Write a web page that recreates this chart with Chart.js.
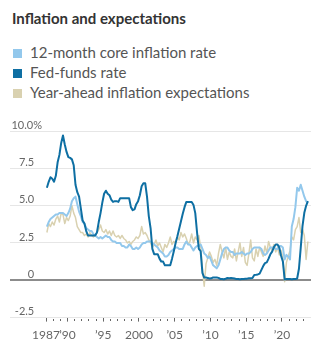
<!DOCTYPE html>
<html>
<head>
<meta charset="utf-8">
<script src="https://cdn.jsdelivr.net/npm/chart.js@4.4.0/dist/chart.umd.min.js"></script>
<style>
  body { margin: 0; background: #fff; font-family: Lato, "Open Sans", sans-serif; }
  #wrap { position: relative; width: 322px; height: 359px; overflow: hidden; }
  h1 { position: absolute; left: 12px; top: 9px; margin: 0; font-size: 15px; line-height: 18px; font-weight: 700; color: #333; }
  #legend { position: absolute; left: 13px; top: 42px; margin: 0; padding: 0; list-style: none; }
  #legend li { display: flex; align-items: center; height: 20px; font-size: 15px; color: #555; white-space: nowrap; }
  #legend i { display: inline-block; width: 9px; height: 9px; margin-right: 8px; position: relative; top: 1px; }
  #chart { position: absolute; left: 0; top: 100px; }
</style>
</head>
<body>
<div id="wrap">
  <h1>Inflation and expectations</h1>
  <ul id="legend"></ul>
  <canvas id="chart" width="322" height="259"></canvas>
</div>
<script>
// quarterly readings, first quarter of 1987 onward
const startYear = 1987;

const coreInflation = [
  3.6, 3.9, 4.1, 4.2,   // 1987
  4.3, 4.4, 4.4, 4.5,   // 1988
  4.5, 4.5, 4.4, 4.3,   // 1989
  4.5, 4.8, 5.3, 5.5,   // 1990
  5.6, 5.1, 4.6, 4.3,   // 1991
  3.9, 3.8, 3.5, 3.4,   // 1992
  3.3, 3.3, 3.1, 3.0,   // 1993
  2.9, 2.8, 2.9, 2.8,   // 1994
  2.9, 3.0, 2.9, 2.9,   // 1995
  2.7, 2.6, 2.6, 2.5,   // 1996
  2.5, 2.5, 2.3, 2.3,   // 1997
  2.2, 2.2, 2.4, 2.3,   // 1998
  2.1, 2.1, 2.2, 2.1,   // 1999
  2.2, 2.4, 2.5, 2.5,   // 2000
  2.6, 2.6, 2.6, 2.5,   // 2001
  2.4, 2.3, 2.2, 2.0,   // 2002
  1.9, 1.8, 1.6, 1.6,   // 2003
  1.7, 1.9, 2.0, 2.1,   // 2004
  2.2, 2.2, 2.1, 2.1,   // 2005
  2.1, 2.4, 2.6, 2.4,   // 2006
  2.4, 2.2, 2.0, 2.2,   // 2007
  2.3, 2.3, 2.4, 2.1,   // 2008
  1.8, 1.7, 1.5, 1.6,   // 2009
  1.3, 1.0, 0.9, 0.8,   // 2010
  1.0, 1.4, 1.8, 2.1,   // 2011
  2.2, 2.2, 2.0, 1.9,   // 2012
  1.9, 1.7, 1.8, 1.8,   // 2013
  1.8, 1.9, 1.8, 1.7,   // 2014
  1.8, 1.8, 1.9, 2.1,   // 2015
  2.2, 2.2, 2.2, 2.2,   // 2016
  2.1, 1.8, 1.7, 1.8,   // 2017
  2.0, 2.2, 2.2, 2.2,   // 2018
  2.1, 2.1, 2.3, 2.3,   // 2019
  2.2, 1.4, 1.7, 1.6,   // 2020
  1.4, 3.6, 4.1, 4.9,   // 2021
  6.2, 6.0, 6.4, 6.0,   // 2022
  5.6, 5.3, 5.2         // 2023
];

const fedFunds = [
  6.2, 6.6, 6.9, 6.8,
  6.6, 7.0, 7.9, 8.4,
  9.2, 9.7, 9.1, 8.6,
  8.25, 8.2, 8.1, 7.7,
  6.4, 5.9, 5.6, 4.8,
  4.0, 3.8, 3.3, 3.0,
  3.0, 3.0, 3.0, 3.0,
  3.2, 3.9, 4.5, 5.2,
  5.8, 6.0, 5.8, 5.7,
  5.4, 5.25, 5.3, 5.3,
  5.25, 5.5, 5.5, 5.5,
  5.5, 5.5, 5.5, 4.9,
  4.7, 4.75, 5.1, 5.3,
  5.7, 6.3, 6.5, 6.5,
  5.6, 4.3, 3.5, 2.1,
  1.75, 1.75, 1.75, 1.45,
  1.25, 1.25, 1.0, 1.0,
  1.0, 1.0, 1.45, 1.95,
  2.5, 2.95, 3.45, 3.95,
  4.45, 4.9, 5.25, 5.25,
  5.25, 5.25, 5.05, 4.5,
  3.2, 2.1, 1.95, 0.5,
  0.18, 0.18, 0.16, 0.12,
  0.13, 0.19, 0.19, 0.19,
  0.16, 0.09, 0.08, 0.07,
  0.1, 0.15, 0.14, 0.16,
  0.14, 0.12, 0.08, 0.09,
  0.07, 0.09, 0.09, 0.1,
  0.11, 0.13, 0.14, 0.16,
  0.36, 0.37, 0.39, 0.45,
  0.7, 0.95, 1.15, 1.2,
  1.45, 1.74, 1.92, 2.22,
  2.4, 2.4, 2.19, 1.64,
  1.26, 0.06, 0.09, 0.09,
  0.08, 0.07, 0.09, 0.08,
  0.12, 0.77, 2.19, 3.65,
  4.52, 4.99, 5.3
];

const expectations = [
  3.2, 3.8, 3.6, 3.9,
  3.7, 4.1, 4.3, 3.9,
  4.5, 4.4, 3.8, 4.2,
  4.0, 4.3, 5.0, 4.5,
  4.2, 3.6, 3.4, 3.2,
  3.2, 3.0, 3.1, 2.9,
  3.2, 3.0, 2.9, 3.0,
  3.2, 3.4, 3.7, 3.3,
  3.2, 3.4, 3.1, 3.3,
  3.0, 3.3, 3.0, 2.9,
  3.0, 2.8, 3.0, 2.8,
  2.7, 2.5, 2.6, 2.4,
  2.6, 2.7, 2.9, 2.8,
  3.0, 3.6, 3.1, 3.2,
  3.0, 2.7, 2.5, 2.2,
  2.4, 2.7, 2.3, 2.5,
  2.2, 1.9, 2.4, 2.2,
  2.5, 2.9, 2.4, 2.6,
  2.5, 2.9, 2.7, 3.2,
  2.9, 3.1, 2.8, 2.4,
  2.6, 3.1, 2.5, 2.9,
  2.7, 3.0, 2.2, 0.8,
  -0.4, 1.1, 1.5, 1.9,
  1.6, 1.2, 1.4, 1.0,
  1.8, 2.4, 1.9, 1.5,
  2.2, 1.4, 1.9, 1.6,
  1.5, 2.1, 1.3, 1.9,
  2.5, 1.6, 2.2, 1.2,
  1.0, 1.8, 2.7, 1.5,
  1.3, 2.1, 1.6, 2.2,
  1.9, 1.6, 2.3, 1.8,
  2.6, 2.2, 2.0, 2.4,
  1.9, 2.2, 1.7, 2.0,
  1.5, -0.1, 1.2, 1.6,
  2.0, 2.9, 2.7, 3.4,
  3.6, 4.2, 3.2, 3.4,
  3.0, 1.4, 2.6
];

const labelledYears = [1987, 1990, 1995, 2000, 2005, 2010, 2015, 2020];
const yearLabels = ['1987', '\u201990', '\u201995', '2000', '\u201905', '\u201910', '\u201915', '\u201920'];
const firstTickYear = 1987;
const lastTickYear = 2023;
const yTicks = [-2.5, 0, 2.5, 5, 7.5, 10];

const colors = {
  core: '#93c8ec',
  fed: '#0e6fa3',
  expect: '#d9d1b0'
};

// each value sits in the middle of its quarter
const toPoints = (values) => values.map((v, i) => ({ x: startYear + i / 4 + 0.125, y: v }));

const tickYears = [];
for (let y = firstTickYear; y <= lastTickYear; y++) tickYears.push(y);

const datasets = [
  { label: '12-month core inflation rate', data: toPoints(coreInflation), borderColor: colors.core, backgroundColor: colors.core, borderWidth: 2, order: 1 },
  { label: 'Fed-funds rate', data: toPoints(fedFunds), borderColor: colors.fed, backgroundColor: colors.fed, borderWidth: 2, order: 0 },
  { label: 'Year-ahead inflation expectations', data: toPoints(expectations), borderColor: colors.expect, backgroundColor: colors.expect, borderWidth: 1.5, order: 2 }
];

const gridColor = (ctx) => (ctx.tick && ctx.tick.value === 0 ? '#8c8c8c' : '#e6e6e6');
const gridWidth = (ctx) => (ctx.tick && ctx.tick.value === 0 ? 2 : 1);

// y axis box runs from x=10 to x=42; its tick marks carry the gridlines under the labels
const yAxisWidth = 32;

const chart = new Chart(document.getElementById('chart'), {
  type: 'line',
  data: { datasets },
  options: {
    responsive: false,
    animation: false,
    events: [],
    layout: { padding: { left: 10, right: 11, top: 31, bottom: 11 } },
    elements: { point: { radius: 0 }, line: { tension: 0, borderJoinStyle: 'round' } },
    plugins: { legend: { display: false }, tooltip: { enabled: false } },
    scales: {
      x: {
        type: 'linear',
        min: 1986.44,
        max: 2024.06,
        border: { display: false },
        afterBuildTicks: (scale) => { scale.ticks = tickYears.map((v) => ({ value: v })); },
        grid: {
          drawOnChartArea: false,
          drawTicks: true,
          tickLength: 4,
          tickColor: '#666',
          tickWidth: 1,
          tickBorderDash: (ctx) => (labelledYears.includes(ctx.tick.value) ? [] : [0, 1, 2, 10])
        },
        ticks: {
          autoSkip: false,
          maxRotation: 0,
          padding: 6,
          color: '#666',
          font: { family: 'Lato', size: 12 },
          callback: (v) => {
            const i = labelledYears.indexOf(v);
            return i >= 0 ? yearLabels[i] : '';
          }
        }
      },
      y: {
        min: -2.5,
        max: 10,
        border: { display: false },
        afterBuildTicks: (scale) => { scale.ticks = yTicks.map((v) => ({ value: v })); },
        afterFit: (scale) => { scale.width = yAxisWidth; },
        grid: {
          color: gridColor,
          lineWidth: gridWidth,
          tickColor: gridColor,
          tickWidth: gridWidth,
          tickLength: yAxisWidth
        },
        ticks: {
          padding: -yAxisWidth,
          labelOffset: -6,
          color: '#666',
          font: { family: 'Lato', size: 11 },
          callback: (v) => {
            if (v === 10) return '10.0%';
            if (v === 0) return '0\u2007\u2009';
            return v.toFixed(1) + '\u2007\u2009';
          }
        }
      }
    }
  }
});

// legend built from the chart's own datasets
const legend = document.getElementById('legend');
chart.data.datasets.forEach((ds) => {
  const li = document.createElement('li');
  const sw = document.createElement('i');
  sw.style.background = ds.borderColor;
  li.appendChild(sw);
  li.appendChild(document.createTextNode(ds.label));
  legend.appendChild(li);
});
</script>
</body>
</html>
